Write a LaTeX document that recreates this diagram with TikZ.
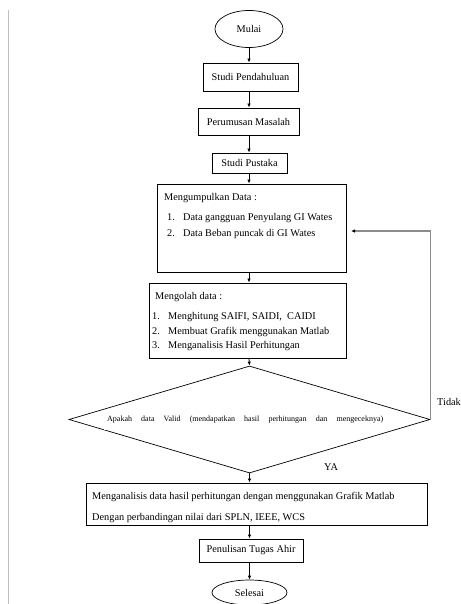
\documentclass[tikz,border=0pt]{standalone}
\usepackage{fontspec}
\setmainfont{Liberation Serif}
\usetikzlibrary{shapes.geometric,arrows.meta}
\begin{document}
\begin{tikzpicture}[x=1pt,y=-1pt,
  boxst/.style={draw=black,line width=0.9pt,rectangle,inner sep=0pt,font=\fontsize{10.3}{12}\selectfont},
  ovalst/.style={draw=black,line width=0.7pt,ellipse,inner sep=0pt,font=\fontsize{10.3}{12}\selectfont},
  txt/.style={anchor=base west,inner sep=0pt,font=\fontsize{10.3}{12}\selectfont},
  arr/.style={draw=black,line width=0.8pt,-{Latex[length=4pt,width=3.5pt]}},
  fbline/.style={draw=black!45,line width=1.2pt,-{Latex[length=4pt,width=3.5pt,color=black]}}]
\useasboundingbox (0,0) rectangle (460,604);
\draw[black!25,line width=1pt] (8,10) -- (8,604);

\node[ovalst,minimum width=68pt,minimum height=37pt] (mulai) at (249,29) {Mulai};
\node[boxst,minimum width=95pt,minimum height=28pt] (sp) at (250.5,77) {Studi Pendahuluan};
\node[boxst,minimum width=101pt,minimum height=27pt] (pm) at (248.5,121.5) {Perumusan Masalah};
\node[boxst,minimum width=75pt,minimum height=20pt] (spu) at (249.5,163) {Studi Pustaka};
\node[boxst,minimum width=189pt,minimum height=88pt] (md) at (251.5,228) {};
\node[boxst,minimum width=197pt,minimum height=75pt] (mo) at (247.5,320.5) {};
\node[diamond,draw=black,line width=0.7pt,inner sep=0pt,minimum width=361pt,minimum height=107pt] (dec) at (249.5,419.5) {};
\node[fill=white,inner sep=0pt,minimum height=20pt,anchor=west,font=\fontsize{8}{9}\selectfont] (dect) at (104,420)
  {\makebox[279pt][s]{\hspace{3pt}Apakah data Valid (mendapatkan hasil perhitungan dan mengeceknya)}};
\node[boxst,minimum width=341pt,minimum height=42pt] (an) at (256.5,504) {};
\node[boxst,minimum width=104pt,minimum height=23pt] (pt) at (251,550.5) {Penulisan Tugas Ahir};
\node[ovalst,minimum width=75pt,minimum height=25pt] (sel) at (249.5,592.5) {Selesai};

\node[txt] (md0) at (164,200.5) {Mengumpulkan Data :};
\node[txt] (md1n) at (167,220.5) {1.};
\node[txt] (md1) at (183,220.5) {Data gangguan Penyulang GI Wates};
\node[txt] (md2n) at (167,236.5) {2.};
\node[txt] (md2) at (183,236.5) {Data Beban puncak di GI Wates};

\node[txt] (mo0) at (155,299.5) {Mengolah data :};
\node[txt] (mo1n) at (152,319.5) {1.};
\node[txt] (mo1) at (168,319.5) {Menghitung SAIFI, SAIDI,\ \ CAIDI};
\node[txt] (mo2n) at (152,334.5) {2.};
\node[txt] (mo2) at (168,334.5) {Membuat Grafik menggunakan Matlab};
\node[txt] (mo3n) at (152,348.5) {3.};
\node[txt] (mo3) at (168,348.5) {Menganalisis Hasil Perhitungan};

\node[txt] (an1) at (92,499.5) {Menganalisis data hasil perhitungan dengan menggunakan Grafik Matlab};
\node[txt] (an2) at (92,520.5) {Dengan perbandingan nilai dari SPLN, IEEE, WCS};

\node[txt] (tidak) at (437,405.5) {Tidak};
\node[txt] (ya) at (324,470.5) {YA};

\draw[arr] (mulai.south) -- (mulai.south |- sp.north);
\draw[arr] (mulai.south |- sp.south) -- (mulai.south |- pm.north);
\draw[arr] (mulai.south |- pm.south) -- (mulai.south |- spu.north);
\draw[arr] (mulai.south |- spu.south) -- (mulai.south |- md.north);
\draw[arr] (mulai.south |- md.south) -- (mulai.south |- mo.north);
\draw[arr] (mulai.south |- mo.south) -- (dec.north);
\draw[arr] (dec.south) -- (dec.south |- an.north);
\draw[arr] (dec.south |- an.south) -- (dec.south |- pt.north);
\draw[arr] (dec.south |- pt.south) -- (dec.south |- sel.north);

\coordinate (fbend) at (351,231);
\draw[fbline] (dec.east) |- (fbend);
\end{tikzpicture}
\end{document}
